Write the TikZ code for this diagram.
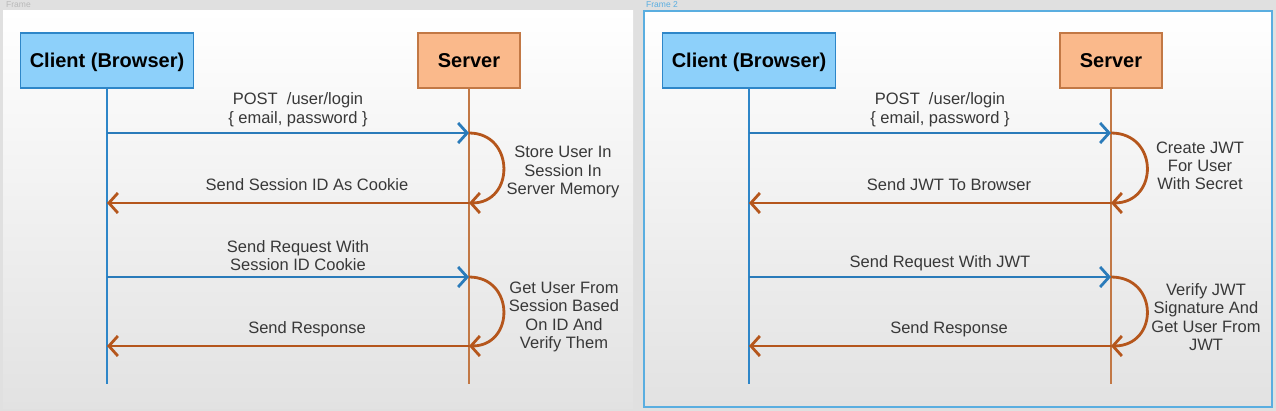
\documentclass[tikz,border=0pt]{standalone}
\usepackage{fontspec}
\setmainfont{Liberation Sans}
\usepackage{xcolor}
\usetikzlibrary{positioning}
\usetikzlibrary{arrows.meta}

\definecolor{pagegray}{HTML}{E0E0E0}
\definecolor{framebottom}{HTML}{E2E2E2}
\definecolor{frameblue}{HTML}{5AAEE0}
\definecolor{clientfill}{HTML}{8DD0FA}
\definecolor{clientline}{HTML}{2E86C8}
\definecolor{serverfill}{HTML}{FAB98B}
\definecolor{serverline}{HTML}{C27845}
\definecolor{reqblue}{HTML}{2A7BBA}
\definecolor{resbrown}{HTML}{B5561C}
\definecolor{textgray}{HTML}{383838}

\tikzset{
  actor/.style={draw, line width=1.5pt, minimum height=55pt, inner sep=0pt,
    text height=14.5pt, text depth=0pt,
    font=\fontsize{20}{22}\selectfont\bfseries},
  client/.style={actor, fill=clientfill, draw=clientline, minimum width=173pt},
  server/.style={actor, fill=serverfill, draw=serverline, minimum width=102pt},
  clientlife/.style={clientline, line width=2pt},
  serverlife/.style={serverline, line width=1.5pt},
  req/.style={reqblue, line width=2.8pt, -{Straight Barb[length=9pt,width=20pt]}},
  res/.style={resbrown, line width=2.8pt, -{Straight Barb[length=9pt,width=20pt]}},
  reqmsg/.style={font=\fontsize{16.5}{18.3}\selectfont, text=textgray, align=center,
    anchor=south, inner sep=0pt, yshift=5pt, xshift=10pt},
  resmsg/.style={font=\fontsize{16.5}{18.3}\selectfont, text=textgray,
    anchor=base, inner sep=0pt, yshift=12pt, xshift=19pt},
  note/.style={font=\fontsize{16.5}{18.3}\selectfont, text=textgray, align=center},
  framelabel/.style={font=\fontsize{8.5}{9}\selectfont, text=gray!55, anchor=west, inner sep=0pt}
}

\begin{document}
\begin{tikzpicture}[x=1pt,y=-1pt]
\useasboundingbox (0,0) rectangle (1276,411);
\fill[pagegray] (0,0) rectangle (1276,411);

% the two frames
\shade[top color=white, middle color=white, bottom color=framebottom] (3,11) rectangle (633,408);
\shade[top color=white, middle color=white, bottom color=framebottom] (644,11) rectangle (1272,407);
\draw[frameblue, line width=2pt] (644,11) rectangle (1272,407);
\node[framelabel] (frame1label) at (6,5) {Frame};
\node[framelabel, text=frameblue] (frame2label) at (646,5) {Frame 2};

% session based login
\begin{scope}
  \node[client] (client1) at (107,60.5) {Client (Browser)};
  \node[server] (server1) at (469,60.5) {Server};
  \coordinate (client1end) at (107,384);
  \coordinate (server1end) at (469,384);
  \draw[clientlife] (client1) -- (client1end);
  \draw[serverlife] (server1) -- (server1end);

  \coordinate (c1a) at (107,133);
  \coordinate (s1a) at (469,133);
  \coordinate (c1b) at (107,203);
  \coordinate (s1b) at (469,203);
  \coordinate (c1c) at (107,277);
  \coordinate (s1c) at (469,277);
  \coordinate (c1d) at (107,346);
  \coordinate (s1d) at (469,346);

  \draw[req] (c1a) -- node[reqmsg] {POST\ \ /user/login\\\{ email, password \}} (s1a);
  \draw[res] (s1a) .. controls +(46,0) and +(46,0) .. (s1b);
  \draw[res] (s1b) -- node[resmsg] {Send Session ID As Cookie} (c1b);
  \draw[req] (c1c) -- node[reqmsg] {Send Request With\\Session ID Cookie} (s1c);
  \draw[res] (s1c) .. controls +(46,0) and +(46,0) .. (s1d);
  \draw[res] (s1d) -- node[resmsg] {Send Response} (c1d);

  \node[note] (store1) at (563,172) {Store User In\\Session In\\Server Memory};
  \node[note] (get1) at (564,317) {Get User From\\Session Based\\On ID And\\Verify Them};
\end{scope}

% jwt based login
\begin{scope}[xshift=642pt]
  \node[client] (client2) at (107,60.5) {Client (Browser)};
  \node[server] (server2) at (469,60.5) {Server};
  \coordinate (client2end) at (107,384);
  \coordinate (server2end) at (469,384);
  \draw[clientlife] (client2) -- (client2end);
  \draw[serverlife] (server2) -- (server2end);

  \coordinate (c2a) at (107,133);
  \coordinate (s2a) at (469,133);
  \coordinate (c2b) at (107,203);
  \coordinate (s2b) at (469,203);
  \coordinate (c2c) at (107,277);
  \coordinate (s2c) at (469,277);
  \coordinate (c2d) at (107,346);
  \coordinate (s2d) at (469,346);

  \draw[req] (c2a) -- node[reqmsg] {POST\ \ /user/login\\\{ email, password \}} (s2a);
  \draw[res] (s2a) .. controls +(48,0) and +(48,0) .. (s2b);
  \draw[res] (s2b) -- node[resmsg] {Send JWT To Browser} (c2b);
  \draw[req] (c2c) -- node[reqmsg] {Send Request With JWT} (s2c);
  \draw[res] (s2c) .. controls +(48,0) and +(48,0) .. (s2d);
  \draw[res] (s2d) -- node[resmsg] {Send Response} (c2d);

  \node[note] (create2) at (558,166) {Create JWT\\For User\\With Secret};
  \node[note] (verify2) at (564,317) {Verify JWT\\Signature And\\Get User From\\JWT};
\end{scope}
\end{tikzpicture}
\end{document}
